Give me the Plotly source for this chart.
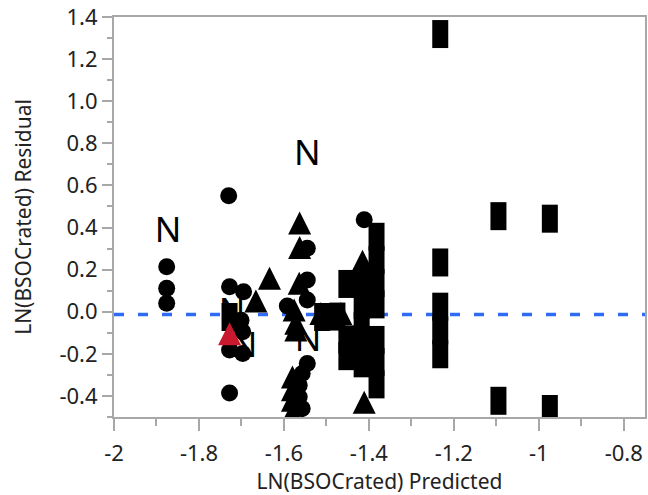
import plotly.graph_objects as go

# ---- data ----
circle_x = [-1.876, -1.876, -1.876, -1.730, -1.728, -1.695, -1.701, -1.697, -1.728, -1.697,
            -1.728, -1.592, -1.545, -1.545, -1.545, -1.545, -1.557, -1.564, -1.564, -1.557,
            -1.411]
circle_y = [0.214, 0.111, 0.040, 0.551, 0.119, 0.095, -0.040, -0.095, -0.182, -0.198,
            -0.386, 0.027, 0.302, 0.151, 0.056, -0.246, -0.293, -0.349, -0.405, -0.460,
            0.437]

tri_x = [-1.634, -1.666, -1.563, -1.563, -1.564, -1.576, -1.572, -1.572,
         -1.580, -1.580, -1.580, -1.580, -1.513, -1.466, -1.415, -1.425, -1.411]
tri_y = [0.159, 0.051, 0.421, 0.305, 0.135, 0.008, -0.055, -0.087,
         -0.310, -0.370, -0.420, -0.480, -0.008, -0.008, 0.240, 0.190, -0.430]

red_tri_x = [-1.728]
red_tri_y = [-0.105]

rect_x = [-1.232, -1.232, -1.232, -1.232, -1.232,
          -1.095, -1.095, -0.974, -0.974,
          -1.382, -1.382, -1.382, -1.382, -1.382, -1.382, -1.382,
          -1.417, -1.417, -1.417, -1.417, -1.417,
          -1.453, -1.453, -1.453, -1.474, -1.510, -1.728]
rect_y = [1.319, 0.234, 0.024, -0.089, -0.202,
          0.454, -0.423, 0.442, -0.462,
          0.356, 0.246, 0.136, 0.035, -0.134, -0.239, -0.345,
          0.141, 0.032, -0.068, -0.173, -0.245,
          0.132, -0.131, -0.211, -0.023, -0.025, -0.025]

n_x = [-1.873, -1.545, -1.722, -1.694, -1.543]
n_y = [0.373, 0.738, -0.011, -0.173, -0.147]
n_label = ["N", "N", "N", "N", "N"]

ref_line_y = -0.013

x_tickvals = [-2, -1.8, -1.6, -1.4, -1.2, -1.0, -0.8]
x_ticktext = ["-2", "-1.8", "-1.6", "-1.4", "-1.2", "-1", "-0.8"]
y_tickvals = [-0.4, -0.2, 0.0, 0.2, 0.4, 0.6, 0.8, 1.0, 1.2, 1.4]
y_ticktext = ["-0.4", "-0.2", "0.0", "0.2", "0.4", "0.6", "0.8", "1.0", "1.2", "1.4"]

x_title = "LN(BSOCrated) Predicted"
y_title = "LN(BSOCrated) Residual"

# ---- styles ----
FONT = "Noto Sans, Open Sans, sans-serif"
TEXT_COLOR = "#222222"
AXIS_COLOR = "#A8A8A8"
TRI_SIZE = 23
TICK_SIZE = 22
TITLE_SIZE = 21

fig = go.Figure()

fig.add_trace(go.Scatter(
    x=n_x, y=n_y, mode="text", text=n_label, textposition="middle center",
    textfont=dict(family=FONT, size=35, color="#000000"), hoverinfo="skip", showlegend=False))

fig.add_trace(go.Scatter(
    x=rect_x, y=rect_y, mode="markers", showlegend=False,
    marker=dict(symbol="line-ns", size=20, color="#000000",
                line=dict(width=16, color="#000000"))))

fig.add_trace(go.Scatter(
    x=circle_x, y=circle_y, mode="markers", showlegend=False,
    marker=dict(symbol="circle", size=17, color="#000000", line=dict(width=0))))

fig.add_trace(go.Scatter(
    x=tri_x, y=tri_y, mode="markers", showlegend=False,
    marker=dict(symbol="arrow-down", angle=180, standoff=TRI_SIZE / 2, size=TRI_SIZE,
                color="#000000", line=dict(width=0))))

fig.add_trace(go.Scatter(
    x=red_tri_x, y=red_tri_y, mode="markers", showlegend=False,
    marker=dict(symbol="arrow-down", angle=180, standoff=TRI_SIZE / 2, size=TRI_SIZE,
                color="#C8192E", line=dict(width=0))))

fig.add_shape(type="line", xref="paper", x0=0, x1=1, yref="y", y0=ref_line_y, y1=ref_line_y,
              line=dict(color="#2F6BF5", width=3.5, dash="10px,14px"), layer="below")

fig.update_layout(
    width=648, height=495,
    margin=dict(l=114, r=1, t=17, b=78),
    paper_bgcolor="white", plot_bgcolor="white",
    font=dict(family=FONT, size=TICK_SIZE, color=TEXT_COLOR),
    showlegend=False,
    hovermode=False,
    xaxis=dict(
        range=[-2.0, -0.75], showgrid=False, zeroline=False,
        showline=True, linecolor=AXIS_COLOR, linewidth=2, mirror=True,
        ticks="outside", ticklen=12, tickwidth=2, tickcolor=AXIS_COLOR,
        tickmode="array", tickvals=x_tickvals, ticktext=x_ticktext,
        tickfont=dict(family=FONT, size=TICK_SIZE, color=TEXT_COLOR),
        ticklabelstandoff=4, ticklabeloverflow="allow",
        minor=dict(ticks="outside", ticklen=7, tickwidth=2, tickcolor=AXIS_COLOR,
                   tickmode="linear", tick0=0, dtick=0.1, showgrid=False),
        title=dict(text=x_title, font=dict(family=FONT, size=TITLE_SIZE, color=TEXT_COLOR),
                   standoff=12),
    ),
    yaxis=dict(
        range=[-0.5, 1.4], showgrid=False, zeroline=False,
        showline=True, linecolor=AXIS_COLOR, linewidth=2, mirror=True,
        ticks="outside", ticklen=10, tickwidth=2, tickcolor=AXIS_COLOR,
        tickmode="array", tickvals=y_tickvals, ticktext=y_ticktext,
        tickfont=dict(family=FONT, size=TICK_SIZE, color=TEXT_COLOR),
        ticklabeloverflow="allow",
        minor=dict(ticks="outside", ticklen=5, tickwidth=2, tickcolor=AXIS_COLOR,
                   tickmode="linear", tick0=0, dtick=0.1, showgrid=False),
        title=dict(text=y_title, font=dict(family=FONT, size=TITLE_SIZE, color=TEXT_COLOR),
                   standoff=22),
    ),
)

# remove the default 8px page margin so the figure fills the window exactly
fig.write_html("out.html",
               config={"displayModeBar": False, "staticPlot": True},
               post_script="document.body.style.margin='0';document.body.style.overflow='hidden';")
